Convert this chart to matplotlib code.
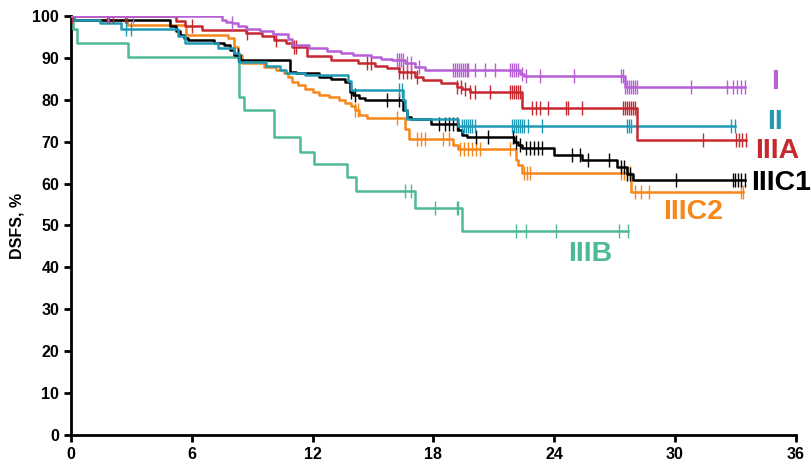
import matplotlib
matplotlib.use("Agg")
import matplotlib.pyplot as plt
import numpy as np

plt.rcParams.update({
    "font.family": ["Liberation Sans", "DejaVu Sans"],
    "font.weight": "bold",
})

# Kaplan-Meier steps (months, % disease-free)
groups = ["IIIB", "IIIC2", "IIIC1", "II", "IIIA", "I"]

t_I = [0, 7.48, 7.7, 7.98, 8.3, 8.7, 9.4, 10.05, 10.8, 11.0, 11.8, 12.7, 13.4, 14.0, 14.9, 15.4,
       15.95, 16.6, 17.1, 17.6, 22.3, 22.5, 27.5]
s_I = [100, 99.1, 98.6, 98.2, 97.5, 96.9, 96.3, 95.6, 94.6, 93.1, 92.3, 91.6, 91.1, 90.6, 90.3, 89.8,
       89.4, 88.7, 87.9, 87.0, 86.2, 85.7, 83.1]
c_I = [1.85, 3.1, 7.98, 16.2, 16.3, 16.4, 16.5, 16.7, 16.9, 17.3, 18.98, 19.05, 19.15, 19.25, 19.35,
       19.45, 19.55, 19.65, 19.73, 20.06, 20.56, 21.05, 21.8, 21.9, 22.0, 22.1, 22.2, 22.4, 22.6, 23.3,
       25.0, 27.3, 27.4, 27.5, 27.6, 27.7, 27.8, 27.9, 28.0, 28.1, 30.8, 32.6, 32.9, 33.1, 33.3, 33.5]
end_I = 33.5

t_IIIA = [0, 5.2, 5.66, 6.5, 8.7, 9.5, 10.1, 10.7, 11.0, 11.7, 12.9, 14.25, 15.1, 15.7, 16.3, 17.1,
          17.5, 18.4, 19.15, 19.4, 19.8, 22.4, 28.1]
s_IIIA = [100, 98.8, 97.5, 96.7, 95.9, 95.1, 94.3, 93.5, 92.5, 90.4, 89.5, 88.7, 88.1, 87.5, 86.7, 85.5,
          84.8, 83.9, 83.1, 82.5, 81.8, 78.0, 70.4]
c_IIIA = [0.05, 1.77, 1.9, 2.1, 2.7, 2.8, 6.0, 8.75, 10.2, 11.1, 11.2, 14.7, 14.9, 16.3, 16.5, 16.7,
          16.9, 17.2, 19.15, 19.35, 19.55, 19.8, 20.06, 20.8, 21.8, 21.9, 22.0, 22.1, 22.2, 22.3, 22.9,
          23.1, 23.3, 23.7, 24.6, 24.7, 25.4, 27.4, 27.5, 27.6, 27.7, 27.8, 27.9, 28.0, 31.4, 33.05,
          33.2, 33.35, 33.55]
end_IIIA = 33.55

t_II = [0, 0.15, 1.44, 2.5, 5.3, 5.66, 7.3, 8.1, 8.35, 9.7, 10.4, 10.7, 11.6, 13.75, 13.9, 16.5,
        16.6, 16.7, 19.2]
s_II = [100, 99.0, 98.3, 96.8, 95.2, 93.6, 92.3, 91.1, 89.1, 88.1, 87.1, 86.5, 85.9, 84.5, 82.3, 80.0,
        77.5, 75.3, 73.8]
c_II = [2.73, 3.0, 16.3, 16.45, 19.4, 19.5, 19.6, 19.7, 19.8, 19.9, 20.06, 21.9, 22.0, 22.1, 22.2,
        22.3, 22.4, 22.5, 22.7, 23.4, 27.6, 27.7, 27.8, 32.8, 33.0]
end_II = 33.0

t_IIIC1 = [0, 0.15, 4.9, 5.2, 5.4, 5.6, 5.8, 7.1, 7.6, 7.9, 8.1, 8.4, 10.9, 11.2, 12.3, 12.9, 13.6,
           13.85, 14.0, 14.3, 14.6, 16.5, 16.7, 16.9, 17.9, 19.2, 19.4, 19.65, 22.0, 22.2, 22.4, 24.0,
           25.4, 27.1, 27.6, 27.9]
s_IIIC1 = [100, 99.0, 97.5, 96.5, 95.5, 94.7, 94.3, 93.6, 93.1, 91.9, 90.7, 89.5, 86.7, 86.3, 85.5,
           84.9, 84.3, 81.9, 81.1, 80.4, 80.0, 77.6, 76.0, 75.3, 74.2, 72.8, 71.6, 71.2, 70.0, 69.2,
           68.4, 66.8, 65.6, 64.0, 62.4, 60.9]
c_IIIC1 = [8.3, 13.9, 14.1, 15.7, 16.3, 18.3, 18.6, 18.8, 18.97, 19.15, 20.1, 20.7, 21.95, 22.1,
           22.3, 22.6, 22.8, 23.0, 23.2, 23.4, 24.9, 25.3, 25.7, 26.7, 27.3, 27.45, 27.6, 27.75, 30.07,
           32.9, 33.0, 33.15, 33.3, 33.5]
end_IIIC1 = 33.5

t_IIIC2 = [0, 0.15, 2.8, 5.7, 7.8, 8.1, 8.3, 8.5, 9.6, 10.2, 10.6, 10.8, 11.0, 11.3, 11.6, 12.0,
           12.3, 12.8, 13.3, 13.6, 13.9, 14.1, 14.3, 14.7, 16.6, 16.8, 19.0, 19.2, 22.1, 22.2, 22.4,
           27.8]
s_IIIC2 = [100, 99.0, 97.8, 95.5, 94.7, 92.5, 90.7, 88.7, 87.9, 87.1, 86.3, 85.5, 84.3, 83.5, 82.5,
           81.9, 81.1, 80.7, 80.0, 79.2, 78.4, 77.6, 76.4, 75.6, 73.0, 70.6, 69.2, 68.2, 65.6, 64.4,
           62.6, 58.1]
c_IIIC2 = [14.1, 14.25, 16.2, 17.2, 17.4, 17.6, 18.5, 18.8, 19.3, 19.5, 19.7, 19.9, 20.1, 20.3,
           21.8, 22.5, 22.65, 22.8, 27.3, 27.45, 27.6, 27.75, 28.0, 28.3, 28.7, 33.3, 33.4]
end_IIIC2 = 33.4

t_IIIB = [0, 0.1, 0.28, 2.85, 8.35, 8.6, 10.1, 11.4, 12.07, 13.7, 14.15, 17.1, 19.4]
s_IIIB = [100, 97.0, 93.5, 90.3, 80.6, 77.6, 71.0, 67.6, 64.7, 61.5, 58.3, 54.1, 48.7]
c_IIIB = [16.6, 16.9, 18.07, 19.15, 19.23, 22.1, 22.6, 24.07, 27.2, 27.67]
end_IIIB = 27.67

colors = {"I": "#B75FD6", "II": "#1F9AB6", "IIIA": "#C5282E", "IIIB": "#4DB996",
          "IIIC1": "#000000", "IIIC2": "#F5871B"}

fig = plt.figure(figsize=(8.12, 4.69), dpi=100)
ax = fig.add_axes([0.0874, 0.0725, 0.8926, 0.8935])


def km(t, s, end, cens, color):
    xs = list(t) + [end]
    ys = list(s) + [s[-1]]
    ax.step(xs, ys, where="post", color=color, lw=1.8, zorder=3)
    idx = np.searchsorted(t, cens, side="right") - 1
    cy = np.array(s)[idx]
    ax.plot(cens, cy, ls="none", marker="|", ms=9.5, mew=1.0, color=color, zorder=3)


data = {
    "IIIB": (t_IIIB, s_IIIB, end_IIIB, c_IIIB),
    "IIIC2": (t_IIIC2, s_IIIC2, end_IIIC2, c_IIIC2),
    "IIIC1": (t_IIIC1, s_IIIC1, end_IIIC1, c_IIIC1),
    "II": (t_II, s_II, end_II, c_II),
    "IIIA": (t_IIIA, s_IIIA, end_IIIA, c_IIIA),
    "I": (t_I, s_I, end_I, c_I),
}
for g in groups:
    km(*data[g], colors[g])

# group labels at the right of each curve
labels = {"I": (34.95, 84.2), "II": (34.95, 74.6), "IIIA": (35.1, 67.8),
          "IIIC1": (35.25, 60.1), "IIIC2": (30.9, 53.2), "IIIB": (25.8, 43.2)}
for g, (x, y) in labels.items():
    ax.text(x, y, g, color=colors[g], fontsize=20.5, fontweight="bold",
            ha="center", va="center", clip_on=False)

ax.set_xlim(0, 36)
ax.set_ylim(0, 100)
ax.set_xticks(np.arange(0, 37, 6))
ax.set_yticks(np.arange(0, 101, 10))
ax.tick_params(width=2, length=5, labelsize=11.5)
for lab in ax.get_xticklabels() + ax.get_yticklabels():
    lab.set_fontweight("bold")
ax.set_ylabel("DSFS, %", fontsize=11.5, fontweight="bold", labelpad=6)
for sp in ["top", "right"]:
    ax.spines[sp].set_visible(False)
for sp in ["left", "bottom"]:
    ax.spines[sp].set_linewidth(2)

fig.savefig("out.png", dpi=100)
